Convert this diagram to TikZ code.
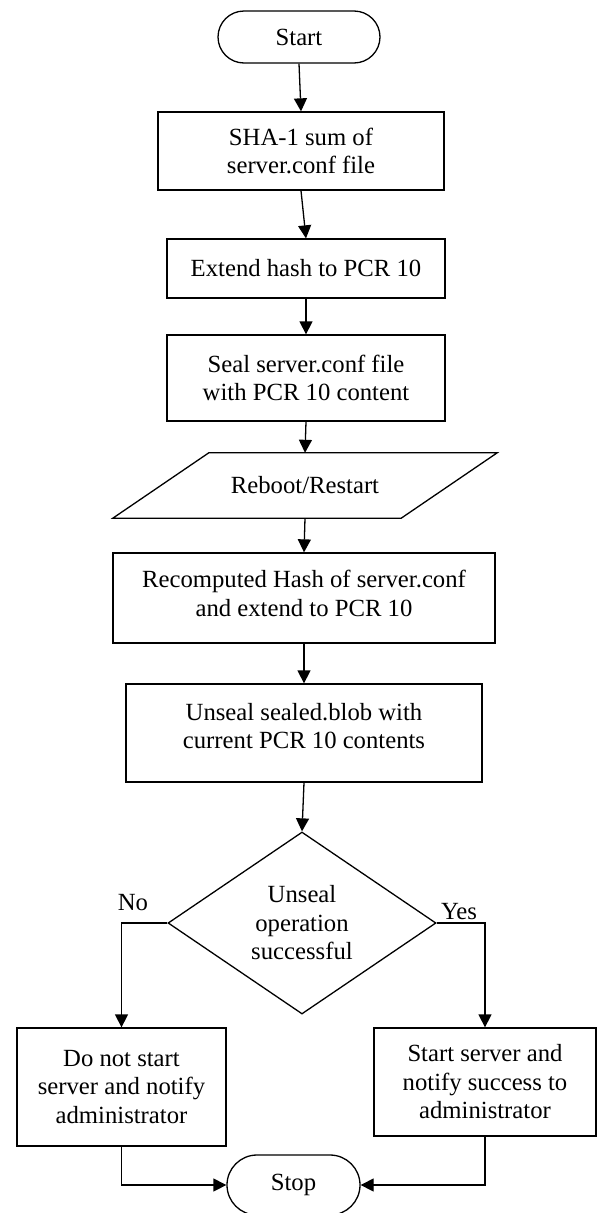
\documentclass[tikz,border=0pt]{standalone}
\usepackage{fontspec}
\setmainfont{Liberation Serif}
\usetikzlibrary{shapes.geometric,shapes.misc,arrows.meta}
\begin{document}
\begin{tikzpicture}[x=1pt,y=-1pt,
  font=\fontsize{24.7}{28.5}\selectfont,
  box/.style={draw, line width=1.3pt, rectangle, align=center, inner sep=0pt},
  term/.style={draw, line width=1.3pt, rounded rectangle, inner sep=0pt},
  arr/.style={line width=1.3pt, -{Triangle[width=13pt,length=13pt]}},
]
\useasboundingbox (0,0) rectangle (597,1213);
\node[term, minimum width=162pt, minimum height=52pt] (start) at (299,37) {Start};
\node[box, minimum width=286pt, minimum height=78pt] (sha) at (301,151) {SHA-1 sum of\\server.conf file};
\node[box, minimum width=278pt, minimum height=59pt] (ext) at (306,268.5) {Extend hash to PCR 10};
\node[box, minimum width=278pt, minimum height=86pt] (seal) at (306,378) {Seal server.conf file\\with PCR 10 content};
\node[minimum width=288pt, minimum height=65pt, inner sep=0pt] (reboot) at (305,485.5) {Reboot/Restart};
\draw[line width=1.3pt, line join=miter] ([xshift=48pt]reboot.north west) -- ([xshift=48pt]reboot.north east) -- ([xshift=-48pt]reboot.south east) -- ([xshift=-48pt]reboot.south west) -- cycle;
\node[box, minimum width=382pt, minimum height=90pt, text depth=9pt] (recomp) at (304,598) {Recomputed Hash of server.conf\\and extend to PCR 10};
\node[box, minimum width=356pt, minimum height=98pt, text depth=14pt] (unseal) at (304,733) {Unseal sealed.blob with\\current PCR 10 contents};
\node[draw, diamond, aspect=1.5, line width=1.3pt, minimum width=268pt, minimum height=182pt, inner sep=0pt, align=center] (dec) at (302,923) {Unseal\\operation\\successful};
\node[box, minimum width=209pt, minimum height=118pt] (no) at (121.5,1087) {Do not start\\server and notify\\administrator};
\node[box, minimum width=222pt, minimum height=108pt] (yes) at (485,1082) {Start server and\\notify success to\\administrator};
\node[term, minimum width=133pt, minimum height=60pt] (stop) at (293.5,1185) {Stop};
\node[anchor=base, inner sep=0pt] (nolab) at (133,910) {No};
\node[anchor=base, inner sep=0pt] (yeslab) at (459,919) {Yes};
\draw[arr] (start.south) -- (sha.north);
\draw[arr] (sha.south) -- (ext.north);
\draw[arr] (ext.south) -- (seal.north);
\draw[arr] (seal.south) -- (reboot.north);
\draw[arr] (reboot.south) -- (recomp.north);
\draw[arr] (recomp.south) -- (unseal.north);
\draw[arr] (unseal.south) -- (dec.north);
\draw[arr] (dec.west) -| (no.north);
\draw[arr] (dec.east) -| (yes.north);
\draw[arr] (no.south) |- (stop.west);
\draw[arr] (yes.south) |- (stop.east);
\end{tikzpicture}
\end{document}
